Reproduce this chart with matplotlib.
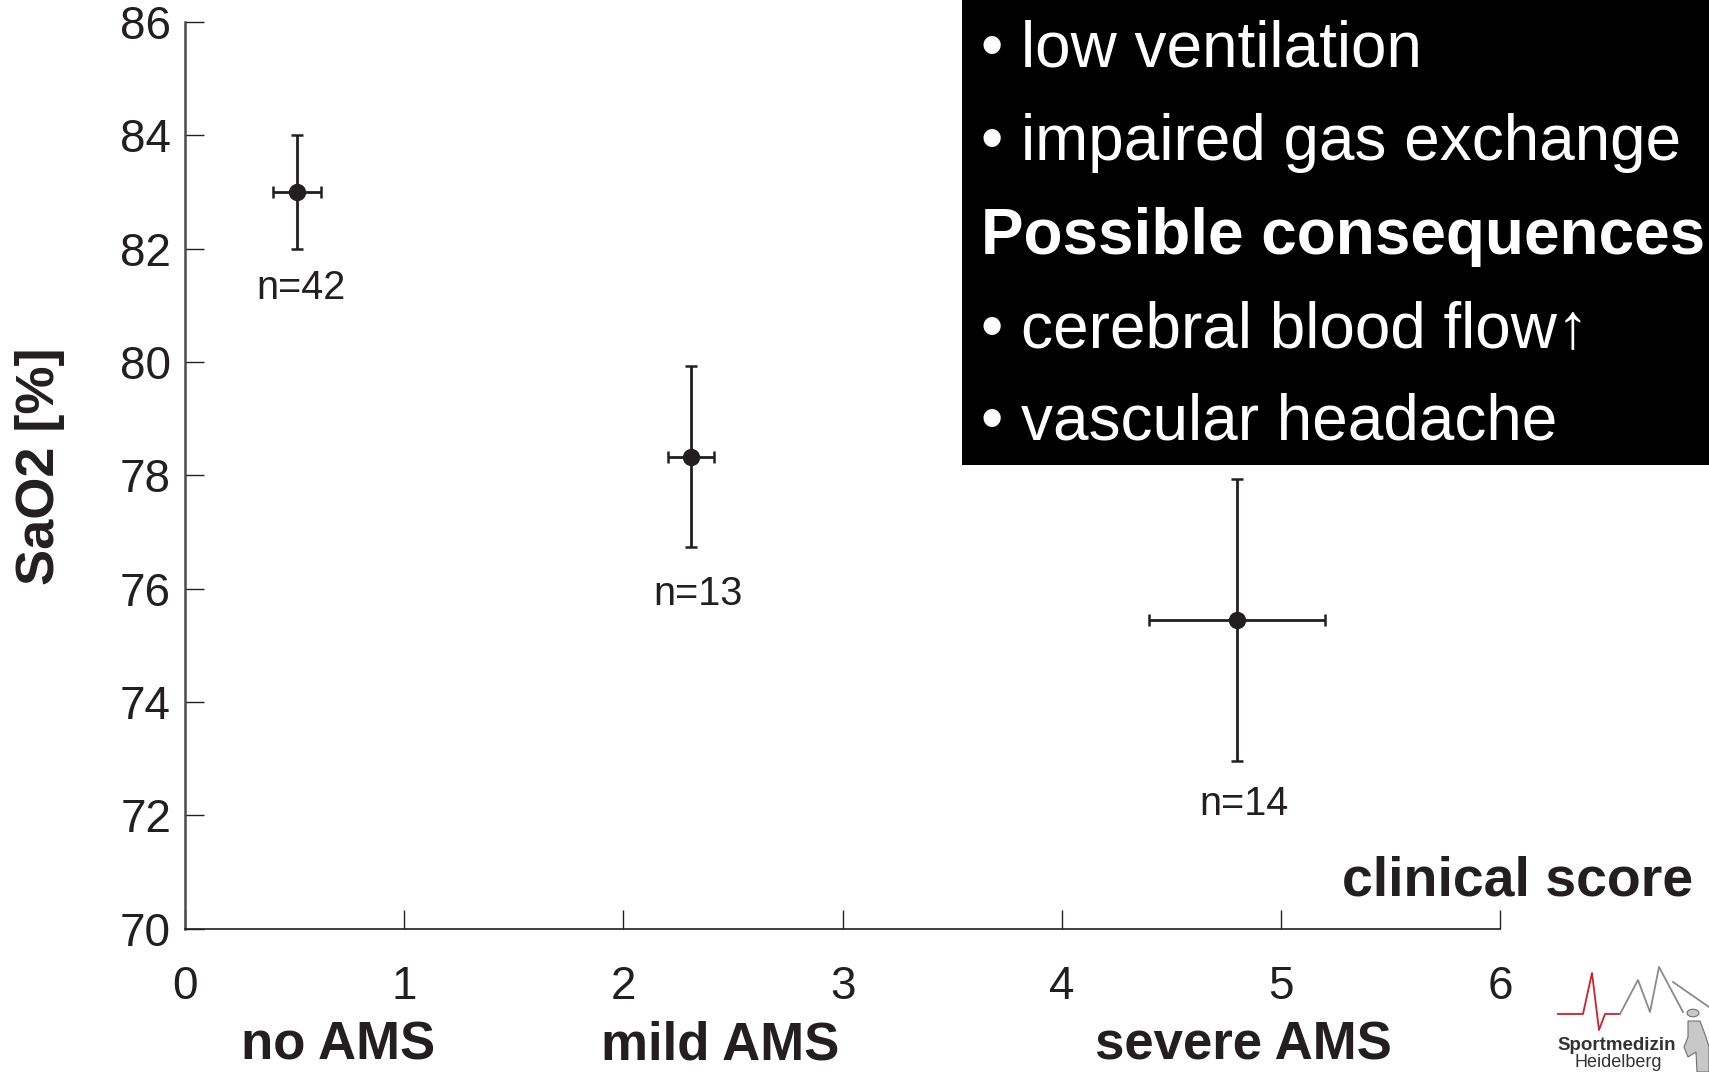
import matplotlib
matplotlib.use("Agg")
import matplotlib.pyplot as plt
import matplotlib.transforms as mtransforms
from matplotlib.patches import Rectangle, Circle, Polygon
from matplotlib.lines import Line2D

# ---- data ----
x_vals = [0.51, 2.31, 4.80]
y_vals = [83.0, 78.33, 75.44]
x_err = [0.11, 0.105, 0.40]
y_err = [1.0, 1.6, 2.49]
n_labels = ["n=42", "n=13", "n=14"]
n_label_x = [0.53, 2.34, 4.83]
n_label_y = [81.3, 75.9, 72.2]
group_names = ["no AMS", "mild AMS", "severe AMS"]
group_x = [0.70, 2.44, 4.83]
x_ticks = [0, 1, 2, 3, 4, 5, 6]
y_ticks = [70, 72, 74, 76, 78, 80, 82, 84, 86]
box_lines = ["• low ventilation", "• impaired gas exchange", "Possible consequences",
             "• cerebral blood flow↑", "• vascular headache"]
box_bold = [False, False, True, False, False]

INK = "#231f20"
FONT = ["Liberation Sans", "DejaVu Sans"]
plt.rcParams["font.family"] = FONT

W, H = 1709, 1072
fig = plt.figure(figsize=(W / 100, H / 100), dpi=100)
ax = fig.add_axes([185 / W, 1 - 928.7 / H, (1500 - 185) / W, (928.7 - 21.8) / H])

ax.errorbar(x_vals, y_vals, xerr=x_err, yerr=y_err, fmt="o", color=INK, ms=11.5,
            elinewidth=2.0, capsize=4.5, capthick=1.8, zorder=3)
for lx, ly, t in zip(n_label_x, n_label_y, n_labels):
    ax.text(lx, ly, t, ha="center", va="center", fontsize=28.5, color=INK)

ax.set_xlim(0, 6)
ax.set_ylim(70, 86)
ax.set_xticks(x_ticks)
ax.set_yticks(y_ticks)
ax.tick_params(axis="both", direction="in", length=14, width=1.0, colors=INK,
               labelsize=33)
ax.tick_params(axis="x", pad=26)
ax.tick_params(axis="y", pad=10)
for s in ["top", "right"]:
    ax.spines[s].set_visible(False)
ax.spines["left"].set_color("#4a4a4a")
ax.spines["left"].set_linewidth(1.8)
ax.spines["bottom"].set_color(INK)
ax.spines["bottom"].set_linewidth(1.2)

# axis labels
fig.text(40 / W, 1 - 466 / H, "SaO2 [%]", rotation=90, ha="center", va="center",
         fontsize=39, fontweight="bold", color=INK)
fig.text(1693 / W, 1 - 896 / H, "clinical score", ha="right", va="baseline",
         fontsize=40, fontweight="bold", color=INK)
grp_tr = mtransforms.blended_transform_factory(ax.transData, fig.transFigure)
for gx, g in zip(group_x, group_names):
    ax.text(gx, 1 / H, g, transform=grp_tr, ha="center", va="bottom",
            fontsize=38, fontweight="bold", color=INK, clip_on=False)

# black box
fig.patches.append(Rectangle((962 / W, 1 - 465 / H), 1 - 962 / W, 465 / H,
                             transform=fig.transFigure, facecolor="black",
                             edgecolor="none", zorder=5))
baselines = [66.5, 160, 254, 347, 440]
for b, t, bold in zip(baselines, box_lines, box_bold):
    fig.text(981 / W, 1 - b / H, t, ha="left", va="baseline", fontsize=46,
             fontweight="bold" if bold else "normal", color="white", zorder=6)

# logo (bottom right)
def fx(px):
    return px / W
def fy(py):
    return 1 - py / H
ecg_x = [1558, 1583, 1592, 1599, 1605, 1620]
ecg_y = [1014, 1014, 973, 1030, 1014, 1014]
fig.add_artist(Line2D([fx(v) for v in ecg_x], [fy(v) for v in ecg_y],
                      transform=fig.transFigure, color="#d0202a", lw=1.3))
mtn_x = [1620, 1638, 1650, 1659, 1683]
mtn_y = [1014, 980, 1012, 967, 1012]
fig.add_artist(Line2D([fx(v) for v in mtn_x], [fy(v) for v in mtn_y],
                      transform=fig.transFigure, color="#8a8a8a", lw=1.3))
fig.add_artist(Line2D([fx(1673), fx(1709)], [fy(982), fy(1007)],
                      transform=fig.transFigure, color="#8a8a8a", lw=1.3))
fig.add_artist(Circle((fx(1693), fy(1013)), 6 / W, transform=fig.transFigure,
                      facecolor="#c8c8c8", edgecolor="#707070", lw=0.8))
body = [(1688, 1021), (1700, 1021), (1706, 1037), (1709, 1047), (1709, 1072),
        (1697, 1072), (1696, 1052), (1688, 1057), (1684, 1047), (1688, 1037)]
fig.add_artist(Polygon([(fx(a), fy(b)) for a, b in body], closed=True,
                       transform=fig.transFigure, facecolor="#c8c8c8",
                       edgecolor="#707070", lw=0.8))
fig.text(fx(1557), fy(1046), "Sportmedizin", ha="left", va="center", fontsize=13.5,
         fontweight="bold", color="#333333")
fig.text(fx(1618), fy(1071), "Heidelberg", ha="center", va="bottom", fontsize=13,
         color="#333333")

fig.savefig("out.png", dpi=100)
